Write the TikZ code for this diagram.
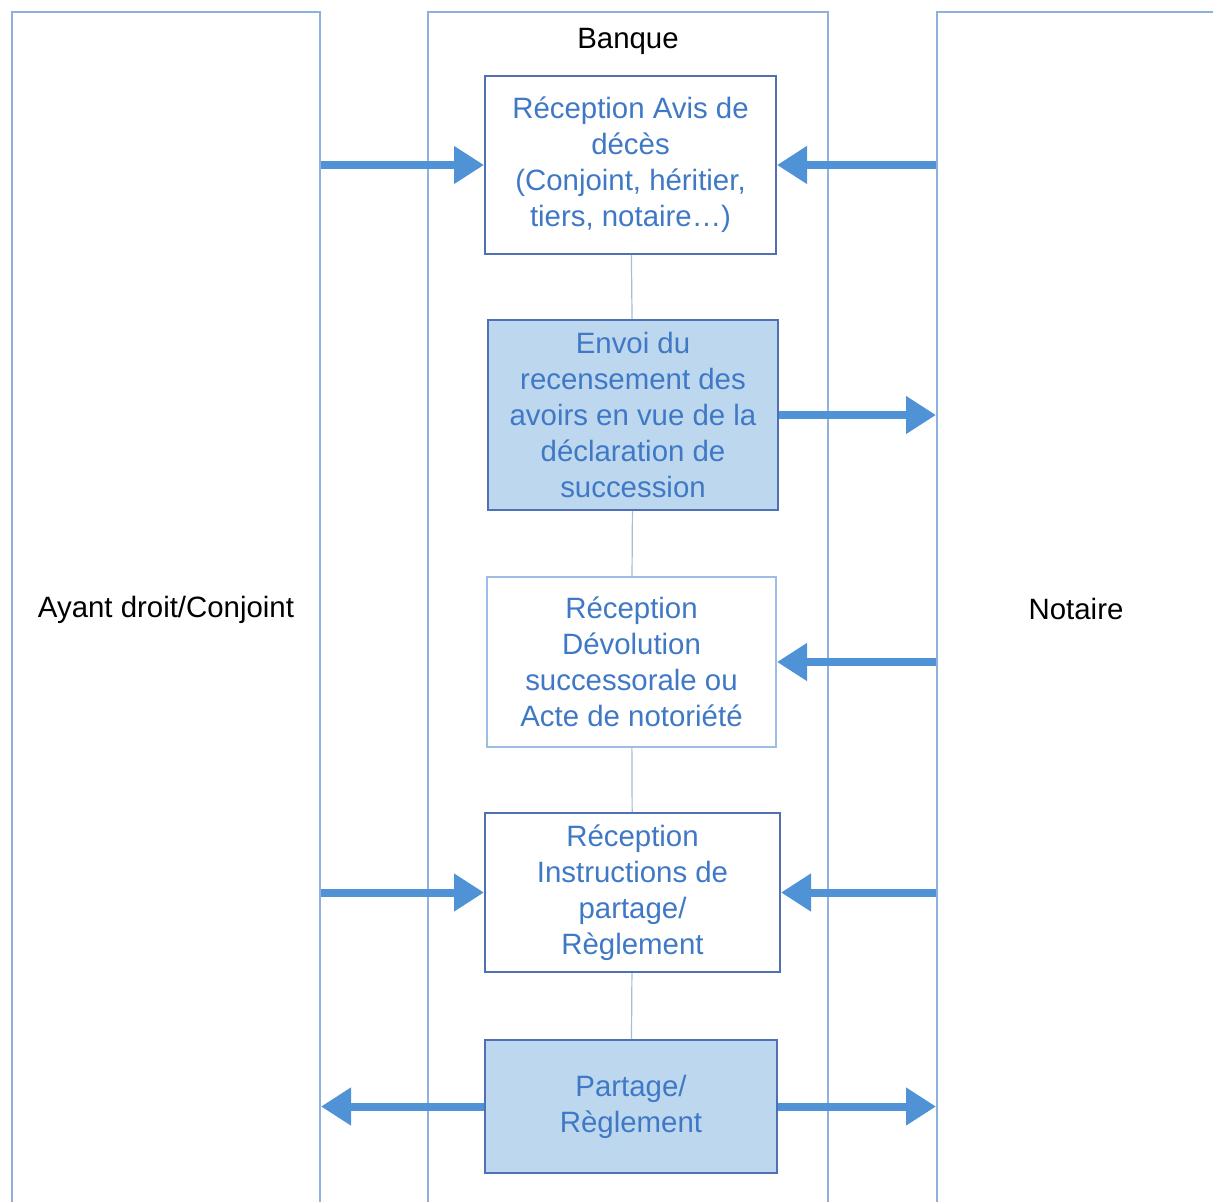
\documentclass[tikz,border=0pt]{standalone}
\usepackage{fontspec}
\setmainfont{Liberation Sans}
\usetikzlibrary{positioning, arrows.meta, fit}
\definecolor{laneblue}{HTML}{8DB0DC}
\definecolor{boxblue}{HTML}{4F70B2}
\definecolor{paleblue}{HTML}{9DBDE4}
\definecolor{txtblue}{HTML}{3F79C6}
\definecolor{fillblue}{HTML}{BDD7EE}
\definecolor{flowblue}{HTML}{4F93D6}
\definecolor{linkgray}{HTML}{A9BCD3}

\begin{document}
\begin{tikzpicture}[
            x=0.5pt, y=-0.5pt,
            every node/.style = {
                align=center,
                font=\fontsize{14.7}{18}\selectfont
            },
            lane/.style = {draw=laneblue, line width=1pt, inner sep=0pt},
            stepbox/.style = {draw=boxblue, line width=1pt, text=txtblue,
                fill=white, inner sep=0pt},
            flow/.style = {draw=flowblue, line width=4pt,
                -{Triangle[length=15pt, width=18pt]}},
            link/.style = {draw=linkgray, line width=0.6pt}
        ]
        \useasboundingbox (0,0) rectangle (1213,1202);
        \clip (0,0) rectangle (1213,1202);

        % lanes
        \node[lane, fit={(12,12) (320,1208)}] (ayant) {};
        \node[lane, fit={(428,12) (828,1208)}] (banque) {};
        \node[lane, fit={(937,12) (1215,1208)}] (notaire) {};
        \node at (166,610) (ayantlbl) {Ayant droit/Conjoint};
        \node at (628,41) (banquelbl) {Banque};
        \node at (1076,609) (notairelbl) {Notaire};

        % steps
        \node[stepbox, minimum width=145.5pt, minimum height=89pt] at (630.5,165) (b1)
            {Réception Avis de\\décès\\(Conjoint, héritier,\\tiers, notaire…)};
        \node[stepbox, fill=fillblue, minimum width=145pt, minimum height=95pt] at (633,415) (b2)
            {Envoi du\\recensement des\\avoirs en vue de la\\déclaration de\\succession};
        \node[stepbox, draw=paleblue, minimum width=144.5pt, minimum height=85pt] at (631.5,662) (b3)
            {Réception\\Dévolution\\successorale ou\\Acte de notoriété};
        \node[stepbox, minimum width=147.5pt, minimum height=79.5pt] at (632.5,892.5) (b4)
            {Réception\\Instructions de\\partage/\\Règlement};
        \node[stepbox, fill=fillblue, minimum width=146pt, minimum height=66.5pt] at (631,1106.5) (b5)
            {Partage/\\Règlement};

        \draw[link] (b1) -- (b2);
        \draw[link] (b2) -- (b3);
        \draw[link] (b3) -- (b4);
        \draw[link] (b4) -- (b5);

        % exchanges
        \draw[flow] (ayant.east |- b1.west) -- (b1.west);
        \draw[flow] (notaire.west |- b1.east) -- (b1.east);
        \draw[flow] (b2.east) -- (notaire.west |- b2.east);
        \draw[flow] (notaire.west |- b3.east) -- (b3.east);
        \draw[flow] (ayant.east |- b4.west) -- (b4.west);
        \draw[flow] (notaire.west |- b4.east) -- (b4.east);
        \draw[flow] (b5.west) -- (ayant.east |- b5.west);
        \draw[flow] (b5.east) -- (notaire.west |- b5.east);
\end{tikzpicture}
\end{document}
